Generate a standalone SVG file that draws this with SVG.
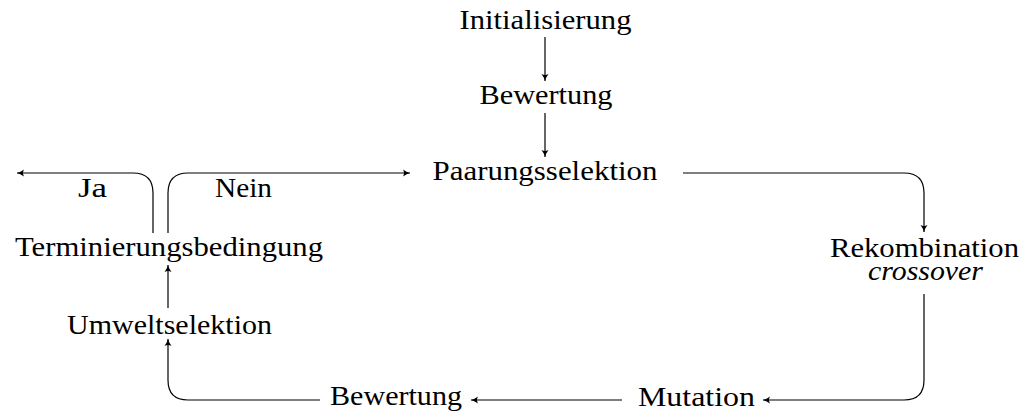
<svg xmlns="http://www.w3.org/2000/svg" width="1022" height="415" viewBox="0 0 1022 415">
<style>
text{font-family:"Liberation Serif","DejaVu Serif",serif;font-size:28px;fill:#000;text-anchor:middle}
.it{font-style:italic}
.c{fill:none;stroke:#000;stroke-width:1.2}
</style>
<defs>
<marker id="ar" markerWidth="10" markerHeight="10" refX="8" refY="5" orient="auto" markerUnits="userSpaceOnUse">
<path d="M1,1.5 Q5,4.5 8,5 Q5,5.5 1,8.5 Q3,5 1,1.5 Z" fill="#000"/>
</marker>
</defs>
<rect width="1022" height="415" fill="#fff"/>
<g id="connectors">
<path class="c" d="M545,37 V81" marker-end="url(#ar)"/>
<path class="c" d="M545,113 V157" marker-end="url(#ar)"/>
<path class="c" d="M683,173 H904 Q924,173 924,193 V232" marker-end="url(#ar)"/>
<path class="c" d="M924,294 V380 Q924,400 904,400 H763" marker-end="url(#ar)"/>
<path class="c" d="M622,400 H471" marker-end="url(#ar)"/>
<path class="c" d="M320,400 H188 Q168,400 168,380 V339" marker-end="url(#ar)"/>
<path class="c" d="M168,308 V265" marker-end="url(#ar)"/>
<path class="c" d="M153,233 V193 Q153,173 133,173 H17" marker-end="url(#ar)"/>
<path class="c" d="M168,233 V193 Q168,173 188,173 H410" marker-end="url(#ar)"/>
</g>
<g id="n-init"><text x="545.5" y="29" textLength="172" lengthAdjust="spacingAndGlyphs">Initialisierung</text></g>
<g id="n-bew1"><text x="546" y="104" textLength="133" lengthAdjust="spacingAndGlyphs">Bewertung</text></g>
<g id="n-paar"><text x="545" y="180" textLength="225" lengthAdjust="spacingAndGlyphs">Paarungsselektion</text></g>
<g id="n-rekomb"><text x="924.5" y="257" textLength="189" lengthAdjust="spacingAndGlyphs">Rekombination</text><text class="it" x="925.5" y="280" textLength="115" lengthAdjust="spacingAndGlyphs">crossover</text></g>
<g id="n-mut"><text x="696.5" y="406" textLength="117" lengthAdjust="spacingAndGlyphs">Mutation</text></g>
<g id="n-bew2"><text x="396" y="405" textLength="132" lengthAdjust="spacingAndGlyphs">Bewertung</text></g>
<g id="n-umwelt"><text x="169.5" y="334" textLength="205" lengthAdjust="spacingAndGlyphs">Umweltselektion</text></g>
<g id="n-term"><text x="169" y="256" textLength="308" lengthAdjust="spacingAndGlyphs">Terminierungsbedingung</text></g>
<g id="l-ja"><text x="92.5" y="197" textLength="29" lengthAdjust="spacingAndGlyphs">Ja</text></g>
<g id="l-nein"><text x="243.5" y="197" textLength="57" lengthAdjust="spacingAndGlyphs">Nein</text></g>
</svg>
